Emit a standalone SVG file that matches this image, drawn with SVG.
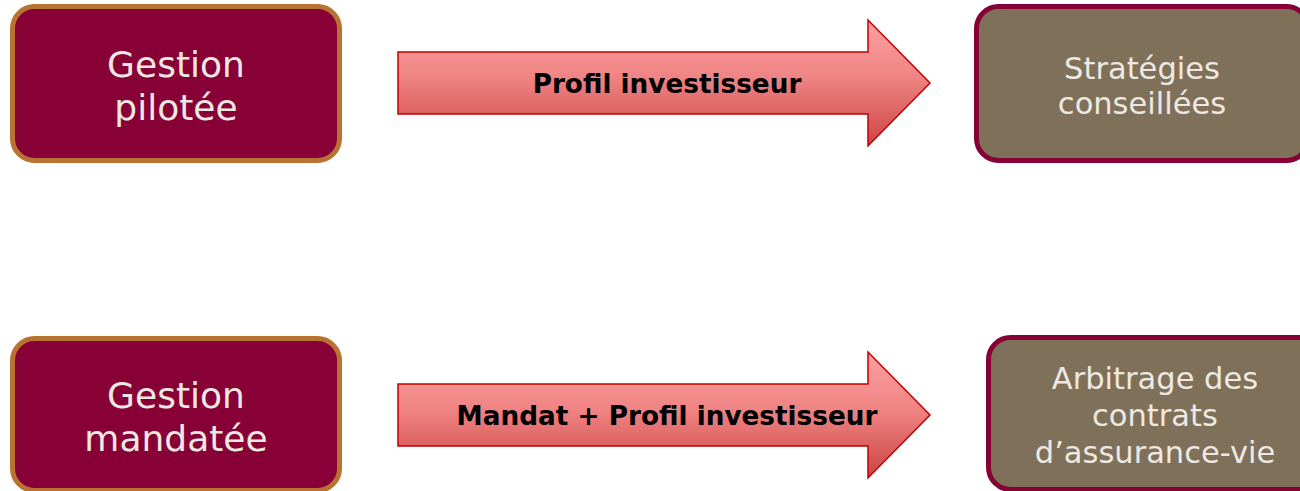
<svg xmlns="http://www.w3.org/2000/svg" width="1300" height="491" viewBox="0 0 1300 491">
<style>
.src{fill:#870036;stroke:#B87333;stroke-width:5}
.dst{fill:#7F705A;stroke:#870036;stroke-width:5}
.arr{fill:url(#ag);stroke:#C00000;stroke-width:1.5;stroke-linejoin:miter}
.bt{font-family:"DejaVu Sans",Verdana,sans-serif;fill:#EEE8E2;text-anchor:middle}
.at{font-family:"DejaVu Sans",Verdana,sans-serif;font-weight:bold;fill:#000;text-anchor:middle;font-size:26.3px}
</style>
<defs>
<linearGradient id="ag" x1="0" y1="0" x2="0" y2="1">
<stop offset="0" stop-color="#FCA0A0"/>
<stop offset="0.45" stop-color="#F08484"/>
<stop offset="1" stop-color="#CC4444"/>
</linearGradient>
</defs>
<g id="gestion-pilotee">
<rect class="src" x="12.5" y="6.5" width="327" height="154" rx="22"/>
<text class="bt" font-size="36" x="176" y="77">Gestion</text>
<text class="bt" font-size="36" x="176" y="120">pilotée</text>
</g>
<g id="strategies">
<rect class="dst" x="976.5" y="6.5" width="332" height="154" rx="22"/>
<text class="bt" font-size="30.5" x="1142" y="79">Stratégies</text>
<text class="bt" font-size="30.5" x="1142" y="114">conseillées</text>
</g>
<g id="gestion-mandatee">
<rect class="src" x="12.5" y="338.5" width="327" height="152" rx="22"/>
<text class="bt" font-size="36" x="176" y="408">Gestion</text>
<text class="bt" font-size="36" x="176" y="451">mandatée</text>
</g>
<g id="arbitrage">
<rect class="dst" x="988.5" y="337.5" width="334" height="152" rx="22"/>
<text class="bt" font-size="30.5" x="1155" y="389">Arbitrage des</text>
<text class="bt" font-size="30.5" x="1155" y="426">contrats</text>
<text class="bt" font-size="30.5" x="1155" y="463">d’assurance-vie</text>
</g>
<g id="connectors">
<g id="arrow-1">
<polygon class="arr" points="398,52 868,52 868,20 930,83 868,146 868,114 398,114"/>
<text class="at" x="667" y="93">Profil investisseur</text>
</g>
<g id="arrow-2">
<polygon class="arr" points="398,384 868,384 868,352 930,415 868,478 868,446 398,446"/>
<text class="at" x="667" y="425">Mandat + Profil investisseur</text>
</g>
</g>
</svg>
